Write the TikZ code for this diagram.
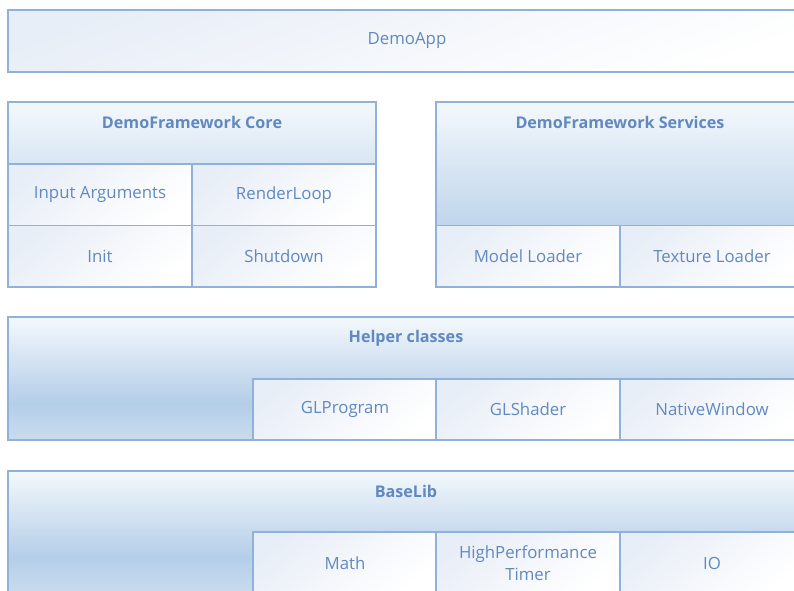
\documentclass[tikz,border=0pt]{standalone}
\usepackage{fontspec}
\setmainfont{Open Sans}
\usetikzlibrary{positioning}

\definecolor{boxline}{HTML}{8FB1DA}
\definecolor{boxtext}{HTML}{6189C0}
\definecolor{hdrtop}{HTML}{F4F8FC}
\definecolor{hdrdark}{HTML}{B4CEE8}
\definecolor{hdrbot}{HTML}{C9DCEF}
\definecolor{cellshade}{HTML}{E8EEF7}

% Degradado vertical de las capas (más oscuro hacia abajo)
\pgfdeclareverticalshading{layershade}{100bp}{color(0bp)=(hdrbot); color(25bp)=(hdrbot); color(40bp)=(hdrdark); color(75bp)=(hdrtop); color(100bp)=(hdrtop)}

\begin{document}
\begin{tikzpicture}[
    x=0.75pt,
    y=-0.75pt,
    % Estilos de las cajas y etiquetas
    layer box/.style={draw=boxline, line width=1.1pt, anchor=north west, inner sep=0pt, outer sep=0pt, shading=layershade},
    header box/.style={draw=boxline, line width=1.1pt, anchor=north west, inner sep=0pt, outer sep=0pt, top color=hdrtop, bottom color=#1},
    cell box/.style={draw=boxline, line width=1.1pt, anchor=north west, inner sep=0pt, outer sep=0pt,
        minimum width=184*0.75pt, minimum height=61.5*0.75pt,
        top color=cellshade, middle color=white, bottom color=white, shading angle=40,
        text=boxtext, align=center, font=\fontsize{12.6}{16.5}\selectfont},
    layer title/.style={text=boxtext, font=\fontsize{12.1}{15}\selectfont\bfseries}
]
    \useasboundingbox (0,0) rectangle (794,591);
    \clip (0,0) rectangle (794,591);

    % --- 1. DEMOAPP ---
    \node[draw=boxline, line width=1.1pt, anchor=north west, inner sep=0pt, outer sep=0pt,
          minimum width=798*0.75pt, minimum height=62*0.75pt,
          top color=cellshade, middle color=white, bottom color=white, shading angle=20] (app) at (8,10) {};
    \node[text=boxtext, font=\fontsize{12.6}{15}\selectfont] (apptitle) at (app.center) {DemoApp};

    % --- 2. DEMOFRAMEWORK CORE ---
    \node[header box=hdrbot!70, minimum width=368*0.75pt, minimum height=62*0.75pt] (core) at (8,102) {};
    \node[layer title] (coretitle) at ([yshift=-20*0.75pt]core.north) {DemoFramework Core};
    \node[cell box] (input)    at (8,164)     {Input Arguments};
    \node[cell box] (render)   at (192,164)   {RenderLoop};
    \node[cell box] (init)     at (8,225.5)   {Init};
    \node[cell box] (shutdown) at (192,225.5) {Shutdown};

    % --- 3. DEMOFRAMEWORK SERVICES ---
    \node[header box=hdrdark!85, minimum width=368*0.75pt, minimum height=123.5*0.75pt] (services) at (436,102) {};
    \node[layer title] (servicestitle) at ([yshift=-20*0.75pt]services.north) {DemoFramework Services};
    \node[cell box] (model)   at (436,225.5) {Model Loader};
    \node[cell box] (texture) at (620,225.5) {Texture Loader};

    % --- 4. HELPER CLASSES ---
    \node[layer box, minimum width=796*0.75pt, minimum height=123*0.75pt] (helper) at (8,317) {};
    \node[layer title] (helpertitle) at ([yshift=-21*0.75pt]helper.north) {Helper classes};
    \node[cell box, minimum height=61*0.75pt] (glprogram) at (253,379) {GLProgram};
    \node[cell box, minimum height=61*0.75pt] (glshader)  at (436,379) {GLShader};
    \node[cell box, minimum height=61*0.75pt] (window)    at (620,379) {NativeWindow};

    % --- 5. BASELIB ---
    \node[layer box, minimum width=796*0.75pt, minimum height=123*0.75pt] (baselib) at (8,471) {};
    \node[layer title] (baselibtitle) at ([yshift=-20*0.75pt]baselib.north) {BaseLib};
    \node[cell box, minimum height=62*0.75pt] (math)  at (253,532) {Math};
    \node[cell box, minimum height=62*0.75pt] (timer) at (436,532) {HighPerformance\\Timer};
    \node[cell box, minimum height=62*0.75pt] (io)    at (620,532) {IO};

\end{tikzpicture}
\end{document}
